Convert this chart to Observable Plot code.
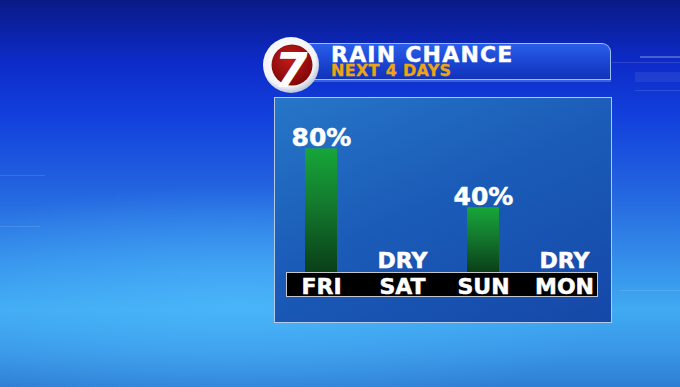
<!DOCTYPE html>
<html>
<head>
<meta charset="utf-8">
<script src="https://cdn.jsdelivr.net/npm/d3@7"></script>
<script src="https://cdn.jsdelivr.net/npm/@observablehq/plot@0.6"></script>
<style>
  html, body { margin: 0; padding: 0; }
  body { width: 680px; height: 387px; overflow: hidden; position: relative;
    font-family: "DejaVu Sans", sans-serif;
    background:
      radial-gradient(ellipse 55% 30% at 35% 78%, rgba(80,190,255,0.55), rgba(80,190,255,0) 100%),
      linear-gradient(180deg, #0a1a86 0%, #0d2bc8 16%, #1240dc 30%, #2466e0 50%, #3590ea 68%, #40aaf2 80%, #3a98e8 90%, #2f7ed4 100%);
  }
  .abs { position: absolute; box-sizing: border-box; }
  #hdr { left: 298px; top: 43px; width: 313px; height: 37px;
    background: linear-gradient(180deg, #2a5ee8 0%, #1a44d2 55%, #1232b8 100%);
    border: 1px solid #9cc0f4; border-left: none; border-top-right-radius: 9px;
    box-shadow: 0 2px 0 rgba(140,180,240,0.35); }
  #t1 { left: 331px; top: 45.6px; line-height: 0.8; color: #fff; font-weight: bold; font-size: 22px; letter-spacing: 1.2px; white-space: nowrap; -webkit-text-stroke: 0.4px #fff; }
  #t2 { left: 331px; top: 64.3px; line-height: 0.9; color: #eda512; font-weight: bold; font-size: 16px; letter-spacing: 0.3px; white-space: nowrap; -webkit-text-stroke: 0.3px #eda512; }
  #panel { left: 274px; top: 97px; width: 338px; height: 226px;
    background: linear-gradient(155deg, #2676c8 0%, #1b5cb8 45%, #1548a8 100%);
    border: 1.5px solid #b4cbe8; }
  #strip { left: 286px; top: 272px; width: 312px; height: 25px; background: #000; border: 1px solid #c4c8cc; }
  #logo { left: 257px; top: 31px; overflow: visible; }
  #chart { left: 0; top: 0; }
  .deco { position: absolute; background: rgba(255,255,255,0.12); }
</style>
</head>
<body>
<div class="deco" style="left:0;top:175px;width:45px;height:1px"></div>
<div class="deco" style="left:0;top:226px;width:40px;height:1px"></div>
<div class="deco" style="left:612px;top:62px;width:68px;height:1px"></div>
<div class="deco" style="left:640px;top:56px;width:40px;height:2px;background:rgba(255,255,255,0.25)"></div>
<div class="deco" style="left:635px;top:72px;width:45px;height:10px;background:rgba(255,255,255,0.07)"></div>
<div class="deco" style="left:635px;top:90px;width:45px;height:1px"></div>
<div class="deco" style="left:620px;top:290px;width:60px;height:1px"></div>
<div id="hdr" class="abs"></div>
<div id="t1" class="abs">RAIN CHANCE</div>
<div id="t2" class="abs">NEXT 4 DAYS</div>
<svg id="logo" class="abs" width="70" height="70" viewBox="0 0 70 70">
  <defs>
    <radialGradient id="ring" cx="45%" cy="40%" r="60%">
      <stop offset="0%" stop-color="#ffffff"/>
      <stop offset="80%" stop-color="#f2f4f8"/>
      <stop offset="100%" stop-color="#b8c4d8"/>
    </radialGradient>
    <radialGradient id="red" cx="45%" cy="35%" r="70%">
      <stop offset="0%" stop-color="#c41a1a"/>
      <stop offset="100%" stop-color="#7a0606"/>
    </radialGradient>
  </defs>
  <circle cx="34" cy="34" r="28" fill="url(#ring)"/>
  <circle cx="35" cy="34" r="20.5" fill="url(#red)"/>
  <text x="34" y="56" text-anchor="middle" font-family="DejaVu Sans" font-weight="bold" font-style="italic" font-size="48" fill="#fff">7</text>
</svg>
<div id="panel" class="abs"></div>
<div id="strip" class="abs"></div>
<div id="chart" class="abs"></div>
<script>
const days = ["FRI", "SAT", "SUN", "MON"];
const rainChance = [80, 0, 40, 0];
const chanceLabels = ["80%", "DRY", "40%", "DRY"];

const data = days.map((d, i) => ({day: d, chance: rainChance[i], label: chanceLabels[i]}));
const wet = data.filter(d => d.chance > 0);
const dry = data.filter(d => d.chance === 0);

const textStyle = {fill: "white", stroke: "white", strokeWidth: 0.5, fontWeight: "bold", fontFamily: "DejaVu Sans"};

const chart = Plot.plot({
  width: 680,
  height: 387,
  marginLeft: 253,
  marginRight: 49,
  marginTop: 119,
  marginBottom: 121,
  x: {domain: days, padding: 0.61, axis: null},
  y: {domain: [0, 100], axis: null},
  style: {background: "transparent", overflow: "visible"},
  marks: [
    Plot.barY(wet, {x: "day", y: "chance", fill: "url(#rainGrad)", insetBottom: -6}),
    Plot.text(wet, {x: "day", y: "chance", text: "label", lineAnchor: "bottom", dy: -3, fontSize: 25, ...textStyle}),
    Plot.text(dry, {x: "day", y: "chance", text: "label", lineAnchor: "bottom", dy: 1, fontSize: 22, ...textStyle}),
    Plot.text(data, {x: "day", y: 0, text: "day", lineAnchor: "bottom", dy: 27, fontSize: 22, ...textStyle})
  ]
});

const ns = "http://www.w3.org/2000/svg";
const defs = document.createElementNS(ns, "defs");
const grad = document.createElementNS(ns, "linearGradient");
grad.setAttribute("id", "rainGrad");
grad.setAttribute("x1", "0"); grad.setAttribute("y1", "0");
grad.setAttribute("x2", "0"); grad.setAttribute("y2", "1");
[["0%", "#17a63a"], ["45%", "#137a2e"], ["100%", "#0a3f18"]].forEach(([o, c]) => {
  const s = document.createElementNS(ns, "stop");
  s.setAttribute("offset", o); s.setAttribute("stop-color", c);
  grad.appendChild(s);
});
defs.appendChild(grad);
chart.insertBefore(defs, chart.firstChild);
document.getElementById("chart").appendChild(chart);
</script>
</body>
</html>
